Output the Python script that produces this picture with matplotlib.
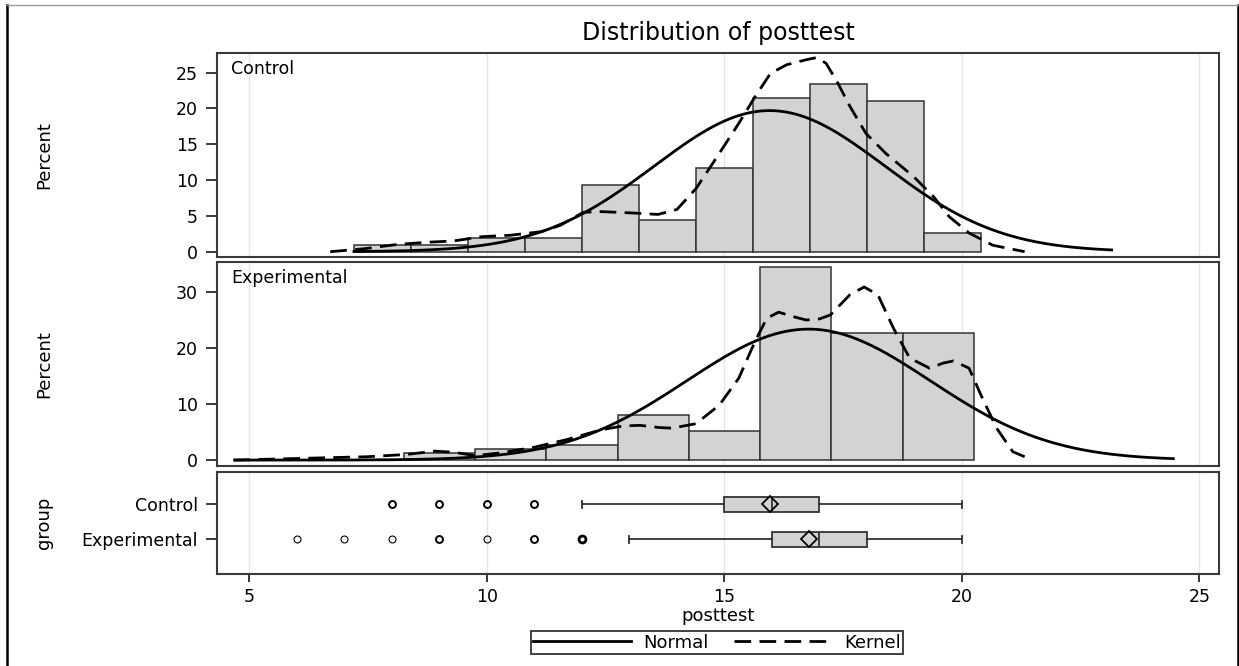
import numpy as np
import matplotlib
matplotlib.use("Agg")
import matplotlib.pyplot as plt
from matplotlib.lines import Line2D

# ---------------------------------------------------------
# Histogram data (percent per bin) for the two groups
# ---------------------------------------------------------
ctrl_edges = [7.2, 8.4, 9.6, 10.8, 12.0, 13.2, 14.4, 15.6, 16.8, 18.0, 19.2, 20.4]
ctrl_pct = [1.0, 1.0, 1.9, 1.9, 9.3, 4.4, 11.7, 21.4, 23.4, 21.0, 2.6]

exp_edges = [8.25, 9.75, 11.25, 12.75, 14.25, 15.75, 17.25, 18.75, 20.25]
exp_pct = [1.3, 2.0, 2.7, 8.0, 5.2, 34.4, 22.6, 22.6]

# normal fit: mean, sd and drawn range
ctrl_mean, ctrl_sd = 15.95, 2.43
exp_mean, exp_sd = 16.77, 2.56
ctrl_norm_range = (7.2, 23.15)
exp_norm_range = (4.7, 24.45)

# kernel density curves
ctrl_kx = [6.7, 7.4, 8.1, 8.7, 9.3, 9.9, 10.5, 11.15, 11.55, 12.03, 12.38, 13.08, 13.6,
           14.0, 14.4, 14.8, 15.3, 15.64, 15.97, 16.31, 16.72, 16.94, 17.14, 17.39,
           17.64, 17.98, 18.4, 18.98, 19.4, 19.73, 20.15, 20.65, 21.32]
ctrl_ky = [0.0, 0.4, 1.0, 1.3, 1.5, 2.1, 2.3, 2.8, 3.7, 5.5, 5.6, 5.4, 5.2,
           5.9, 8.8, 12.8, 17.9, 21.6, 24.9, 26.1, 26.8, 27.1, 26.3, 23.5,
           20.3, 16.5, 13.7, 10.5, 7.7, 4.9, 2.6, 0.9, 0.0]

exp_kx = [4.66, 6.07, 7.47, 8.3, 8.9, 9.3, 9.75, 10.3, 11.0, 11.7, 12.4, 12.87, 13.22,
          13.64, 13.9, 14.4, 14.89, 15.3, 15.64, 15.89, 16.14, 16.45, 16.72, 17.0,
          17.23, 17.64, 17.94, 18.23, 18.56, 18.9, 19.32, 19.6, 19.82, 20.15, 20.4,
          20.73, 21.07, 21.32]
exp_ky = [0.0, 0.3, 0.6, 1.0, 1.6, 1.4, 0.8, 1.3, 2.3, 3.7, 5.4, 6.1, 6.2,
          5.8, 5.7, 6.5, 9.8, 14.6, 21.1, 25.3, 26.4, 25.6, 25.0, 25.2,
          25.9, 29.5, 30.9, 29.5, 23.5, 18.2, 16.4, 17.3, 17.7, 16.4, 11.6,
          5.7, 1.5, 0.6]

# box plot summaries
groups = ["Control", "Experimental"]
box_q1 = [15, 16]
box_med = [16, 17]
box_q3 = [17, 18]
box_lo = [12, 13]
box_hi = [20, 20]
box_mean = [15.95, 16.77]
ctrl_outliers = [8, 9, 10, 11]
ctrl_outlier_n = [2, 2, 2, 2]
exp_outliers = [6, 7, 8, 9, 10, 11, 12]
exp_outlier_n = [1, 1, 1, 2, 1, 2, 3]

# ---------------------------------------------------------
# Styles
# ---------------------------------------------------------
BAR_FILL = "#d3d3d3"
BAR_EDGE = "#333333"
SPINE = "#3a3a3a"
GRID = "#e6e6e6"
FS = 12.5
KDASH = (6, 3)

plt.rcParams["font.family"] = ["DejaVu Sans"]

fig = plt.figure(figsize=(12.39, 6.66), dpi=100)
W, H = 1239.0, 666.0

AX_L, AX_W = 216.7 / W, (1219.4 - 216.7) / W
def ax_rect(top_px, bot_px):
    return [AX_L, 1 - bot_px / H, AX_W, (bot_px - top_px) / H]

ax1 = fig.add_axes(ax_rect(53.3, 256.7))
ax2 = fig.add_axes(ax_rect(262.3, 465.7), sharex=ax1)
ax3 = fig.add_axes(ax_rect(471.7, 574.0), sharex=ax1)

def style_axes(ax):
    for sp in ax.spines.values():
        sp.set_color(SPINE)
        sp.set_linewidth(1.5)
    ax.set_axisbelow(True)
    ax.grid(axis="x", color=GRID, linewidth=1.0)
    ax.grid(axis="y", visible=False)
    ax.tick_params(axis="y", direction="out", length=8, width=1.4, color=SPINE,
                   pad=5.5, labelsize=FS)

def hist_panel(ax, edges, pct, mean, sd, rng, kx, ky, name, ylim, yticks):
    edges = np.asarray(edges)
    binw = edges[1] - edges[0]
    ax.bar(edges[:-1], pct, width=np.diff(edges), align="edge", color=BAR_FILL,
           edgecolor=BAR_EDGE, linewidth=1.1, zorder=2)
    xs = np.linspace(rng[0], rng[1], 400)
    dens = 100 * binw * np.exp(-0.5 * ((xs - mean) / sd) ** 2) / (sd * np.sqrt(2 * np.pi))
    ax.plot(xs, dens, color="black", linewidth=2, zorder=3)
    ax.plot(kx, ky, color="black", linewidth=2, dashes=KDASH, zorder=3)
    ax.set_ylim(*ylim)
    ax.set_yticks(yticks)
    ax.set_ylabel("Percent", fontsize=FS + 0.5, va="center")
    ax.yaxis.set_label_coords((44 - 216.7) / (1219.4 - 216.7), 0.5)
    ax.annotate(name, xy=(0, 1), xycoords="axes fraction", xytext=(10.5, -4.5),
                textcoords="offset points", ha="left", va="top", fontsize=FS)
    ax.tick_params(axis="x", length=0, labelbottom=False)
    style_axes(ax)

hist_panel(ax1, ctrl_edges, ctrl_pct, ctrl_mean, ctrl_sd, ctrl_norm_range,
           ctrl_kx, ctrl_ky, "Control", (-0.7, 27.7), [0, 5, 10, 15, 20, 25])
hist_panel(ax2, exp_edges, exp_pct, exp_mean, exp_sd, exp_norm_range,
           exp_kx, exp_ky, "Experimental", (-1.0, 35.3), [0, 10, 20, 30])

# ---------------------------------------------------------
# Box plot panel
# ---------------------------------------------------------
stats = []
for i, g in enumerate(groups):
    stats.append(dict(label=g, q1=box_q1[i], med=box_med[i], q3=box_q3[i],
                      whislo=box_lo[i], whishi=box_hi[i], mean=box_mean[i], fliers=[]))

ax3.bxp(stats, positions=[1, 2], widths=0.42, vert=False, patch_artist=True,
        showmeans=True, showfliers=False,
        boxprops=dict(facecolor=BAR_FILL, edgecolor=BAR_EDGE, linewidth=1.3),
        medianprops=dict(color=BAR_EDGE, linewidth=1.3),
        whiskerprops=dict(color=BAR_EDGE, linewidth=1.3),
        capprops=dict(color=BAR_EDGE, linewidth=1.3),
        meanprops=dict(marker="D", markersize=8.5, markerfacecolor="none",
                       markeredgecolor="black", markeredgewidth=1.3))

for pos, vals, ns in [(1, ctrl_outliers, ctrl_outlier_n), (2, exp_outliers, exp_outlier_n)]:
    for v, n in zip(vals, ns):
        ax3.plot([v], [pos], marker="o", markersize=5, markerfacecolor="none",
                 markeredgecolor="black", markeredgewidth=0.8 + 0.6 * (n - 1))

ax3.set_ylim(2.99, 0.068)
ax3.set_yticks([1, 2])
ax3.set_yticklabels(groups)
ax3.set_ylabel("group", fontsize=FS + 0.5, va="center")
ax3.yaxis.set_label_coords((44 - 216.7) / (1219.4 - 216.7), 0.5)
style_axes(ax3)
ax3.set_xlim(4.31, 25.42)
ax3.set_xticks([5, 10, 15, 20, 25])
ax3.tick_params(axis="x", direction="out", length=6, width=1.4, color=SPINE,
                pad=4, labelsize=FS)
ax3.set_xlabel("posttest", fontsize=FS + 0.5, labelpad=1)

# ---------------------------------------------------------
# Title, legend, frame
# ---------------------------------------------------------
fig.text((216.7 + 1219.4) / 2 / W, 1 - 33 / H, "Distribution of posttest",
         ha="center", va="center", fontsize=17)

handles = [Line2D([], [], color="black", linewidth=2),
           Line2D([], [], color="black", linewidth=2, dashes=KDASH)]
leg = fig.legend(handles, ["Normal", "Kernel"], loc="center",
                 bbox_to_anchor=(717 / W, 1 - 642.5 / H), ncol=2, fontsize=FS + 0.5,
                 frameon=True, fancybox=False, handlelength=5.4, handletextpad=0.7,
                 columnspacing=1.4, borderpad=0.12, borderaxespad=0)
leg.get_frame().set_edgecolor("black")
leg.get_frame().set_linewidth(1.3)

fig.add_artist(Line2D([6.5 / W, 6.5 / W], [0, 1 - 5 / H], color="black", linewidth=1.8))
fig.add_artist(Line2D([1237.5 / W, 1237.5 / W], [0, 1 - 5 / H], color="black", linewidth=1.8))
fig.add_artist(Line2D([6.5 / W, 1237.5 / W], [1 - 5 / H, 1 - 5 / H], color="#999999", linewidth=1))

fig.savefig("out.png", dpi=100)
